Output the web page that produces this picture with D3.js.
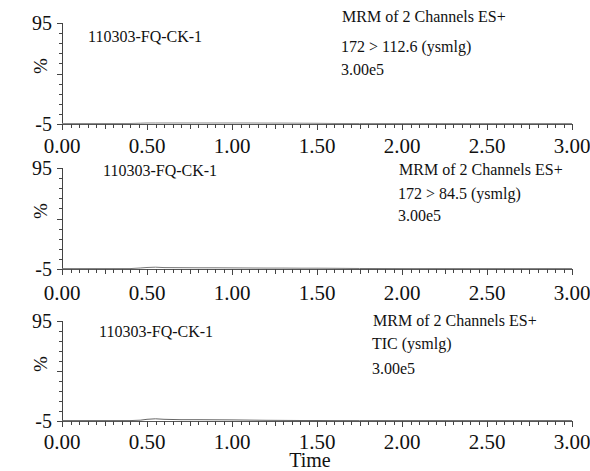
<!DOCTYPE html>
<html>
<head>
<meta charset="utf-8">
<script src="https://cdn.jsdelivr.net/npm/d3@7"></script>
<style>
  body { margin: 0; background: #fff; }
  svg text { font-family: "Liberation Serif", Tinos, "DejaVu Serif", serif; fill: #111; }
</style>
</head>
<body>
<svg id="chart" width="590" height="471"></svg>
<script>
var width = 590, height = 471;

// data
var xTicks = [0, 0.5, 1.0, 1.5, 2.0, 2.5, 3.0];
var yTicks = [-5, 95];
var sampleName = "110303-FQ-CK-1";
var titles = ["MRM of 2 Channels ES+", "MRM of 2 Channels ES+", "MRM of 2 Channels ES+"];
var channels = ["172 > 112.6 (ysmlg)", "172 > 84.5 (ysmlg)", "TIC (ysmlg)"];
var scales = ["3.00e5", "3.00e5", "3.00e5"];

var times = [0, 0.40, 0.46, 0.50, 0.55, 0.60, 0.70, 0.80, 0.90, 1.00, 1.10, 1.20, 1.30, 1.40, 1.50, 1.60, 1.75, 2.0, 2.5, 3.0];
var trace1 = [-4.5, -4.5, -4.2, -4.0, -4.0, -4.0, -4.0, -4.0, -4.0, -4.0, -4.0, -4.1, -4.1, -4.2, -4.3, -4.5, -4.5, -4.5, -4.5, -4.5];
var trace2 = [-4.6, -4.6, -4.0, -3.5, -3.2, -3.6, -3.7, -3.8, -3.8, -3.9, -4.0, -4.1, -4.1, -4.2, -4.2, -4.3, -4.5, -4.6, -4.6, -4.6];
var trace3 = [-4.6, -4.6, -4.2, -3.3, -2.8, -3.3, -3.7, -3.7, -3.8, -3.9, -4.1, -4.3, -4.4, -4.5, -4.5, -4.6, -4.6, -4.6, -4.6, -4.6];

var panels = [
  { top: 23, bottom: 124, lab: 153, trace: trace1, color: "#888", name: [88, 36], info: [341, 16, 46, 69] },
  { top: 168, bottom: 269, lab: 300, trace: trace2, color: "#777", name: [103, 170], info: [398, 169, 193, 215] },
  { top: 321, bottom: 421, lab: 449, trace: trace3, color: "#666", name: [99, 331], info: [372, 320, 343, 368] }
];

var svg = d3.select("#chart");

var x = d3.scaleLinear().domain([0, 3]).range([62, 572]);

panels.forEach(function(p, i) {
  var y = d3.scaleLinear().domain([-5, 95]).range([p.bottom, p.top]);
  var g = svg.append("g");

  // baseline (x axis line)
  g.append("line")
    .attr("x1", x(0)).attr("x2", x(3))
    .attr("y1", p.bottom + 0.5).attr("y2", p.bottom + 0.5)
    .attr("stroke", "#555").attr("stroke-width", 1);

  // x ticks every 0.05
  var minor = d3.range(0, 3.0001, 0.05);
  g.selectAll(".xt").data(minor).enter().append("line")
    .attr("x1", function(d) { return Math.round(x(d)) + 0.5; })
    .attr("x2", function(d) { return Math.round(x(d)) + 0.5; })
    .attr("y1", p.bottom)
    .attr("y2", function(d) {
      var r = Math.round(d * 100);
      if (r % 50 === 0) return p.bottom + 6;
      if (r % 25 === 0) return p.bottom + 5;
      return p.bottom + 4;
    })
    .attr("stroke", "#444").attr("stroke-width", 1);

  g.selectAll(".xl").data(xTicks).enter().append("text")
    .attr("x", function(d) { return x(d); })
    .attr("y", p.lab)
    .attr("text-anchor", "middle")
    .style("font-size", "21px")
    .text(function(d) { return d.toFixed(2); });

  // y axis
  g.append("line")
    .attr("x1", x(0) + 0.5).attr("x2", x(0) + 0.5)
    .attr("y1", p.top).attr("y2", p.bottom)
    .attr("stroke", "#444");
  g.selectAll(".yt").data(d3.range(-5, 96, 10)).enter().append("line")
    .attr("x1", x(0)).attr("x2", function(d) { return d === 45 || d === 95 || d === -5 ? x(0) - 5 : x(0) - 3; })
    .attr("y1", function(d) { return Math.round(y(d)) + 0.5; })
    .attr("y2", function(d) { return Math.round(y(d)) + 0.5; })
    .attr("stroke", "#444");
  g.selectAll(".yl").data(yTicks).enter().append("text")
    .attr("x", x(0) - 10)
    .attr("y", function(d) { return y(d); })
    .attr("dy", ".35em")
    .attr("text-anchor", "end")
    .style("font-size", "20px")
    .text(function(d) { return d; });

  g.append("text")
    .attr("transform", "translate(40," + (p.top + 43) + ") rotate(-90)")
    .attr("text-anchor", "middle")
    .attr("dy", ".35em")
    .style("font-size", "19px")
    .text("%");

  // trace
  var line = d3.line()
    .x(function(d, j) { return x(times[j]); })
    .y(function(d) { return y(d); });
  g.append("path")
    .datum(p.trace)
    .attr("d", line)
    .attr("fill", "none")
    .attr("stroke", p.color)
    .attr("stroke-width", 1);

  // labels
  g.append("text")
    .attr("x", p.name[0]).attr("y", p.name[1])
    .attr("dy", ".35em")
    .style("font-size", "16px")
    .text(sampleName);
  var info = [titles[i], channels[i], scales[i]];
  info.forEach(function(t, k) {
    g.append("text")
      .attr("x", p.info[0] + (k === 0 ? 1 : 0))
      .attr("y", p.info[k + 1])
      .attr("dy", ".35em")
      .style("font-size", "16px")
      .text(t);
  });
});

svg.append("text")
  .attr("x", 310).attr("y", 467)
  .attr("text-anchor", "middle")
  .style("font-size", "20px")
  .text("Time");
</script>
</body>
</html>
